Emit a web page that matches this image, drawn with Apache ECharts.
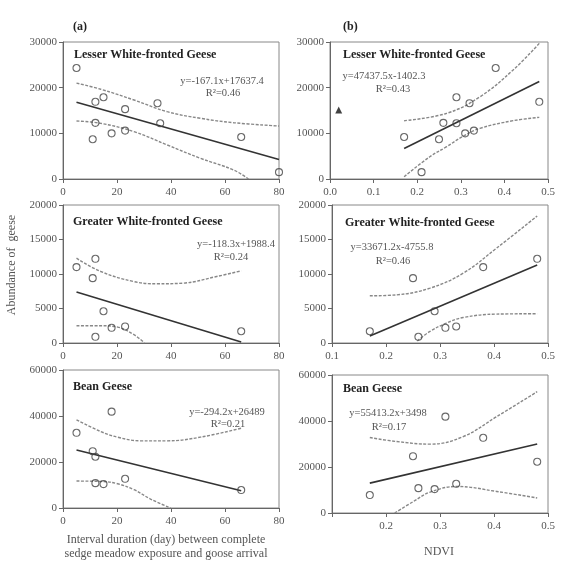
<!DOCTYPE html>
<html>
<head>
<meta charset="utf-8">
<script src="https://cdn.jsdelivr.net/npm/echarts@6/dist/echarts.min.js"></script>
<style>html,body{margin:0;padding:0;background:#fff}#c{width:566px;height:572px}</style>
</head>
<body>
<div id="c"></div>
<script>
// ---------- data ----------
// Panel (a): interval duration (day) vs abundance
const intervalLWFG = [5, 11, 12, 12, 15, 18, 23, 23, 35, 36, 66, 80];
const countLWFG    = [24300, 8700, 16900, 12300, 17900, 10000, 15300, 10600, 16600, 12200, 9200, 1500];
const intervalGWFG = [5, 11, 12, 12, 15, 18, 23, 66];
const countGWFG    = [11000, 9400, 12200, 900, 4600, 2200, 2400, 1700];
const intervalBean = [5, 11, 12, 12, 15, 18, 23, 66];
const countBean    = [32700, 24700, 22300, 10800, 10400, 41900, 12700, 7800];

// Panel (b): NDVI vs abundance
const ndviLWFG      = [0.38, 0.25, 0.48, 0.26, 0.29, 0.31, 0.33, 0.32, 0.29, 0.17, 0.21];
const ndviCountLWFG = [24300, 8700, 16900, 12300, 17900, 10000, 10600, 16600, 12200, 9200, 1500];
const outlierNDVI   = [0.02];
const outlierCount  = [15100];
const ndviGWFG      = [0.38, 0.25, 0.48, 0.26, 0.29, 0.31, 0.33, 0.17];
const ndviCountGWFG = [11000, 9400, 12200, 900, 4600, 2200, 2400, 1700];
const ndviBean      = [0.38, 0.25, 0.48, 0.26, 0.29, 0.31, 0.33, 0.17];
const ndviCountBean = [32700, 24700, 22300, 10800, 10400, 41900, 12700, 7800];

// regression line end points
const fitAx_LWFG = [5, 80],      fitAy_LWFG = [16800, 4270];
const fitAx_GWFG = [5, 66],      fitAy_GWFG = [7400, 150];
const fitAx_Bean = [5, 66],      fitAy_Bean = [25200, 7500];
const fitBx_LWFG = [0.17, 0.48], fitBy_LWFG = [6660, 21370];
const fitBx_GWFG = [0.17, 0.48], fitBy_GWFG = [1000, 11300];
const fitBx_Bean = [0.17, 0.48], fitBy_Bean = [13000, 30000];

// confidence bands
const upAx_LWFG = [5, 14, 26.3, 38.6, 50.9, 63.2, 80];
const upAy_LWFG = [21000, 19650, 17300, 14740, 13290, 12330, 11600];
const loAx_LWFG = [5, 14, 26.3, 38.6, 50.9, 63.2, 68.7];
const loAy_LWFG = [12700, 12190, 10360, 7450, 4530, 1970, 0];
const upAx_GWFG = [5, 14, 26.3, 34.8, 44.6, 56.9, 66];
const upAy_GWFG = [12290, 10360, 8900, 8580, 8680, 9640, 10460];
const loAx_GWFG = [5, 14, 20.2, 26.3, 30.2];
const loAy_GWFG = [2500, 2500, 2310, 1200, 0];
const upAx_Bean = [5, 14, 20.2, 28.8, 38.6, 50.9, 66];
const upAy_Bean = [38310, 33240, 30800, 29200, 29200, 30800, 34700];
const loAx_Bean = [5, 14, 20.2, 26.3, 32.4, 39.8];
const loAy_Bean = [11710, 11570, 10540, 7940, 3900, 0];

const upBx_LWFG = [0.17, 0.2676, 0.344, 0.42, 0.48];
const upBy_LWFG = [12770, 14380, 18000, 23870, 29700];
const loBx_LWFG = [0.17, 0.229, 0.2676, 0.3058, 0.344, 0.42, 0.48];
const loBy_LWFG = [500, 4880, 7070, 9400, 11090, 12770, 13500];
const upBx_GWFG = [0.17, 0.22, 0.2815, 0.343, 0.4046, 0.48];
const upBy_GWFG = [6840, 6980, 7950, 10120, 13740, 18410];
const loBx_GWFG = [0.258, 0.2815, 0.312, 0.343, 0.4046, 0.48];
const loBy_GWFG = [300, 1680, 2890, 3700, 4190, 4240];
const upBx_Bean = [0.17, 0.22, 0.2817, 0.343, 0.405, 0.48];
const upBy_Bean = [32800, 31060, 29930, 33230, 41900, 52750];
const loBx_Bean = [0.216, 0.251, 0.2817, 0.331, 0.405, 0.48];
const loBy_Bean = [0, 5030, 9100, 11540, 9370, 6510];

// tick settings
const yMax = [30000, 20000, 60000];
const yStep = [10000, 5000, 20000];

// ---------- chart ----------
const zip = (a, b) => a.map((v, i) => [v, b[i]]);
const FONT = 'Liberation Serif';
const TXT = '#555';

const gridsPos = [
  {left: 63, top: 42, width: 216, height: 137},
  {left: 330, top: 42, width: 218, height: 137},
  {left: 63, top: 205, width: 216, height: 138},
  {left: 332, top: 205, width: 216, height: 138},
  {left: 63, top: 370, width: 216, height: 138},
  {left: 332, top: 375, width: 216, height: 138}
];
const grid = gridsPos.map(g => Object.assign({show: true, borderColor: '#888', borderWidth: 1, containLabel: false}, g));

const axisCommon = {
  axisLine: {show: true, onZero: false, lineStyle: {color: '#666', width: 1}},
  axisTick: {show: true, inside: false, length: 4, lineStyle: {color: '#666'}},
  splitLine: {show: false},
  axisLabel: {fontFamily: FONT, fontSize: 11, color: TXT}
};

const xAxis = [];
const yAxis = [];
for (let i = 0; i < 6; i++) {
  const row = Math.floor(i / 2), right = i % 2 === 1;
  let xa;
  if (!right) {
    xa = {min: 0, max: 80, interval: 20};
    xa.axisLabel = Object.assign({}, axisCommon.axisLabel, {margin: 8, formatter: v => String(v)});
  } else if (row === 0) {
    xa = {min: 0, max: 0.5, interval: 0.1};
    xa.axisLabel = Object.assign({}, axisCommon.axisLabel, {margin: 8, formatter: v => v.toFixed(1)});
  } else if (row === 1) {
    xa = {min: 0.1, max: 0.5, interval: 0.1};
    xa.axisLabel = Object.assign({}, axisCommon.axisLabel, {margin: 8, formatter: v => v.toFixed(1)});
  } else {
    xa = {min: 0.1, max: 0.5, interval: 0.1};
    xa.axisLabel = Object.assign({}, axisCommon.axisLabel, {margin: 8, formatter: v => (v < 0.15 ? '' : v.toFixed(1))});
  }
  xAxis.push(Object.assign({type: 'value', gridIndex: i, axisLine: axisCommon.axisLine, axisTick: axisCommon.axisTick, splitLine: axisCommon.splitLine}, xa));
  yAxis.push({
    type: 'value', gridIndex: i, min: 0, max: yMax[row], interval: yStep[row],
    axisLine: axisCommon.axisLine, axisTick: axisCommon.axisTick, splitLine: axisCommon.splitLine,
    axisLabel: Object.assign({}, axisCommon.axisLabel, {margin: 6, formatter: v => String(v)})
  });
}

const series = [];
function scatter(idx, xs, ys, symbol) {
  series.push({
    type: 'scatter', xAxisIndex: idx, yAxisIndex: idx, data: zip(xs, ys),
    symbol: symbol || 'circle', symbolSize: 7,
    itemStyle: symbol === 'triangle' ? {color: '#111'} : {color: 'rgba(255,255,255,0)', borderColor: '#444', borderWidth: 1.1},
    z: 5, silent: true
  });
}
function fit(idx, xs, ys) {
  series.push({
    type: 'line', xAxisIndex: idx, yAxisIndex: idx, data: zip(xs, ys),
    showSymbol: false, lineStyle: {color: '#333', width: 1.6}, z: 4, silent: true
  });
}
function band(idx, xs, ys) {
  series.push({
    type: 'line', xAxisIndex: idx, yAxisIndex: idx, data: zip(xs, ys), smooth: 0.4,
    showSymbol: false, lineStyle: {color: '#888', width: 1.4, type: [3, 1.5]}, z: 3, silent: true
  });
}

scatter(0, intervalLWFG, countLWFG); fit(0, fitAx_LWFG, fitAy_LWFG);
band(0, upAx_LWFG, upAy_LWFG); band(0, loAx_LWFG, loAy_LWFG);
scatter(1, ndviLWFG, ndviCountLWFG); scatter(1, outlierNDVI, outlierCount, 'triangle');
fit(1, fitBx_LWFG, fitBy_LWFG); band(1, upBx_LWFG, upBy_LWFG); band(1, loBx_LWFG, loBy_LWFG);
scatter(2, intervalGWFG, countGWFG); fit(2, fitAx_GWFG, fitAy_GWFG);
band(2, upAx_GWFG, upAy_GWFG); band(2, loAx_GWFG, loAy_GWFG);
scatter(3, ndviGWFG, ndviCountGWFG); fit(3, fitBx_GWFG, fitBy_GWFG);
band(3, upBx_GWFG, upBy_GWFG); band(3, loBx_GWFG, loBy_GWFG);
scatter(4, intervalBean, countBean); fit(4, fitAx_Bean, fitAy_Bean);
band(4, upAx_Bean, upAy_Bean); band(4, loAx_Bean, loAy_Bean);
scatter(5, ndviBean, ndviCountBean); fit(5, fitBx_Bean, fitBy_Bean);
band(5, upBx_Bean, upBy_Bean); band(5, loBx_Bean, loBy_Bean);

// ---------- texts ----------
function t(x, y, text, opt) {
  return {
    type: 'text', x: x, y: y, silent: true,
    style: Object.assign({text: text, fontFamily: FONT, fontSize: 10.5, fill: TXT, align: 'center', verticalAlign: 'middle'}, opt || {})
  };
}
const bold = {fontWeight: 'bold', fontSize: 12, fill: '#222', align: 'left'};
const graphic = [
  t(73, 27, '(a)', bold),
  t(343, 27, '(b)', bold),
  t(74, 55, 'Lesser White-fronted Geese', bold),
  t(343, 55, 'Lesser White-fronted Geese', bold),
  t(73, 222, 'Greater White-fronted Geese', bold),
  t(345, 223, 'Greater White-fronted Geese', bold),
  t(73, 387, 'Bean Geese', bold),
  t(343, 389, 'Bean Geese', bold),
  t(222, 81, 'y=-167.1x+17637.4'), t(223, 93, 'R\u00B2=0.46'),
  t(384, 76, 'y=47437.5x-1402.3'), t(393, 89, 'R\u00B2=0.43'),
  t(236, 244, 'y=-118.3x+1988.4'), t(231, 257, 'R\u00B2=0.24'),
  t(392, 247, 'y=33671.2x-4755.8'), t(393, 261, 'R\u00B2=0.46'),
  t(227, 412, 'y=-294.2x+26489'), t(228, 424, 'R\u00B2=0.21'),
  t(388, 413, 'y=55413.2x+3498'), t(389, 427, 'R\u00B2=0.17'),
  t(166, 540, 'Interval duration (day) between complete', {fontSize: 12}),
  t(166, 554, 'sedge meadow exposure and goose arrival', {fontSize: 12}),
  t(439, 552, 'NDVI', {fontSize: 12}),
  {type: 'text', x: 12, y: 265, rotation: Math.PI / 2, silent: true,
   style: {text: 'Abundance of  geese', fontFamily: FONT, fontSize: 12, fill: TXT, align: 'center', verticalAlign: 'middle'}}
];

const chart = echarts.init(document.getElementById('c'), null, {renderer: 'canvas'});
chart.setOption({
  backgroundColor: '#fff',
  animation: false,
  grid: grid, xAxis: xAxis, yAxis: yAxis, series: series, graphic: graphic
});
</script>
</body>
</html>
